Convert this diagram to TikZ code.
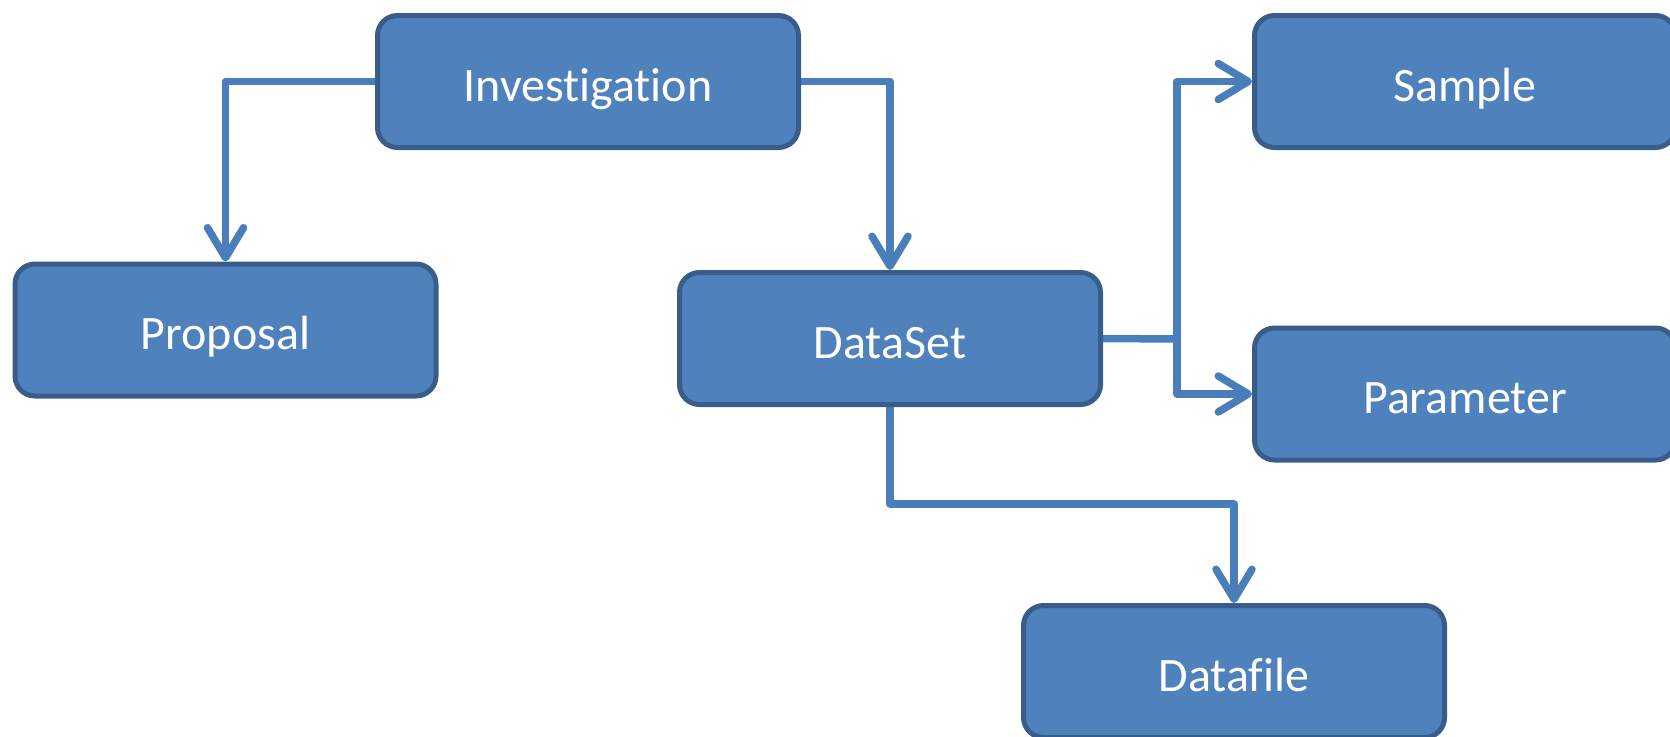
\documentclass[tikz,border=0pt]{standalone}
\usepackage{fontspec}
\setmainfont[Ligatures={NoCommon}]{Carlito}
\usetikzlibrary{arrows.meta}
\definecolor{boxfill}{HTML}{4F81BD}
\definecolor{boxline}{HTML}{385D8A}
\definecolor{linkc}{HTML}{4A7EBB}
\begin{document}
\begin{tikzpicture}[x=1pt,y=-1pt,
  entity/.style={rectangle, rounded corners=20pt, fill=boxfill, draw=boxline,
    line width=5pt, minimum width=421pt, minimum height=132pt, inner sep=0pt,
    text=white, font=\fontsize{48}{57}\selectfont,
    text height=40pt, text depth=0.5pt},
  link/.style={draw=linkc, line width=7.5pt, line join=round},
  arrowlink/.style={link, -{Straight Barb[length=30pt,width=36pt,round]}}]
  \useasboundingbox (0,0) rectangle (1670,736);
  \clip (0,0) rectangle (1670,736);

  % entity boxes
  \node[entity] (inv)  at (588,81.5)  {Investigation};
  \node[entity] (prop) at (225.5,330) {Proposal};
  \node[entity] (ds)   at (890,338.5) {DataSet};
  \node[entity] (samp) at (1465,81.5) {Sample};
  \node[entity] (par)  at (1465,394)  {Parameter};
  \node[entity] (df)   at (1234,671.5) {Datafile};

  % branch points
  \coordinate (split)  at (1177,339);
  \coordinate (dfbend) at (0,504);

  % connectors
  \draw[arrowlink] (inv.west) -| (prop.north);
  \draw[arrowlink] (inv.east) -| (ds.north);
  \draw[link] (ds.east) -- (split);
  \draw[arrowlink] (split) |- (samp.west);
  \draw[arrowlink] (split) |- (par.west);
  \draw[arrowlink] (ds.south) -- (ds.south |- dfbend) -| (df.north);
\end{tikzpicture}
\end{document}
